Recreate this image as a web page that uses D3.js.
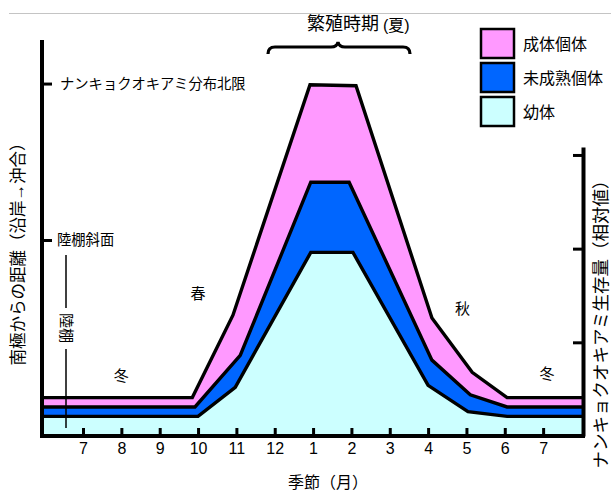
<!DOCTYPE html>
<html><head><meta charset="utf-8">
<script src="https://cdn.jsdelivr.net/npm/d3@7"></script>
<style>
body{margin:0;background:#fff;}
text{font-family:"Liberation Sans","Noto Sans CJK JP",sans-serif;fill:#000;}
</style></head>
<body>
<svg id="c" width="611" height="493"></svg>
<script>
// ---- data ----
const monthLabels = ["7","8","9","10","11","12","1","2","3","4","5","6","7"];
const monthTicks = [0,1,2,3,4,5,6,7,8,9,10,11,12];
const xDomain = [-1.07, 13.04];
// cumulative top boundaries (relative biomass)
const adultX    = [-1.07, 2.85, 3.91, 5.92, 7.12, 9.10, 10.15, 11.06, 13.04];
const adultY    = [0.41, 0.41, 1.29, 3.75, 3.74, 1.26, 0.68, 0.41, 0.41];
const immatureX = [-1.07, 2.92, 4.10, 5.94, 6.94, 9.10, 10.10, 11.06, 13.04];
const immatureY = [0.31, 0.31, 0.86, 2.71, 2.71, 0.81, 0.44, 0.31, 0.31];
const juvenileX = [-1.07, 3.00, 3.97, 5.94, 7.04, 9.00, 10.04, 11.06, 13.04];
const juvenileY = [0.21, 0.21, 0.52, 1.96, 1.96, 0.54, 0.26, 0.21, 0.21];
const seriesNames = ["成体個体","未成熟個体","幼体"];
const seriesColors = ["#ff99ff","#0066ff","#ccffff"];
const biomassTicks = [1,2,3];
const distanceTickValues = [49.5, 89];
const distanceTickLabels = ["陸棚斜面","ナンキョクオキアミ分布北限"];
const seasonLabels = ["冬","春","秋","冬"];
const seasonPos = [[1.0,0.65],[3.0,1.52],[9.9,1.36],[12.1,0.67]];

// ---- layout ----
const svg = d3.select("#c");
const x = d3.scaleLinear().domain(xDomain).range([42, 583]);
const y = d3.scaleLinear().domain([0, 4.228]).range([436, 40]);
const yRight = d3.scaleLinear().domain([0, 3.085]).range([436, 147]);
const yDist = d3.scaleLinear().domain([0, 100]).range([436, 40]);

svg.append("line").attr("x1",9).attr("x2",611).attr("y1",13.5).attr("y2",13.5)
  .attr("stroke","#c4c4c4").attr("stroke-width",1);

const series = [
  {xs: adultX, ys: adultY},
  {xs: immatureX, ys: immatureY},
  {xs: juvenileX, ys: juvenileY}
];
const area = d3.area().x(d=>x(d[0])).y0(y(0)).y1(d=>y(d[1]));
const line = d3.line().x(d=>x(d[0])).y(d=>y(d[1]));
series.forEach((s,i)=>{
  const pts = s.xs.map((v,j)=>[v, s.ys[j]]);
  svg.append("path").attr("d", area(pts)).attr("fill", seriesColors[i]);
  svg.append("path").attr("d", line(pts)).attr("fill","none")
    .attr("stroke","#000").attr("stroke-width",3.4).attr("stroke-linejoin","miter");
});

// bottom axis
const gx = svg.append("g").attr("transform","translate(0,436)")
  .call(d3.axisBottom(x).tickValues(monthTicks).tickFormat(i=>monthLabels[i])
    .tickSizeInner(-8).tickSizeOuter(0).tickPadding(7));
gx.select(".domain").attr("stroke-width",4).attr("d","M40,0H585");
gx.selectAll(".tick line").attr("stroke-width",3);
gx.selectAll(".tick text").attr("font-size",16).attr("font-family","Liberation Sans");

// left axis (distance)
const gl = svg.append("g").attr("transform","translate(42,0)")
  .call(d3.axisRight(yDist).tickValues(distanceTickValues)
    .tickFormat((d,i)=>distanceTickLabels[i]).tickSizeInner(10).tickSizeOuter(0).tickPadding(8));
gl.select(".domain").attr("stroke-width",4).attr("d","M0,40V438");
gl.selectAll(".tick line").attr("stroke-width",3);
gl.selectAll(".tick text").attr("font-size",14.3).attr("font-family","Noto Sans CJK JP");
gl.selectAll(".tick").filter((d,i)=>i===0).select("text").attr("x",15);

// right axis (biomass)
const gr = svg.append("g").attr("transform","translate(583,0)")
  .call(d3.axisLeft(yRight).tickValues(biomassTicks).tickFormat("").tickSizeInner(10).tickSizeOuter(0));
gr.select(".domain").attr("stroke-width",4);
gr.selectAll(".tick line").attr("stroke-width",3);

// continental shelf marker
svg.append("line").attr("x1",66).attr("x2",66).attr("y1",255).attr("y2",308).attr("stroke","#000").attr("stroke-width",1.5);
svg.append("line").attr("x1",66).attr("x2",66).attr("y1",349).attr("y2",428).attr("stroke","#000").attr("stroke-width",1.5);
svg.append("text").attr("transform","translate(66,328) rotate(90)").attr("text-anchor","middle")
  .attr("dominant-baseline","central").attr("font-size",15).attr("font-family","Noto Sans CJK JP").text("陸棚");

// season labels
seasonLabels.forEach((t,i)=>{
  svg.append("text").attr("x",x(seasonPos[i][0])).attr("y",y(seasonPos[i][1]))
    .attr("text-anchor","middle").attr("dominant-baseline","central")
    .attr("font-size",15).attr("font-family","Noto Sans CJK JP").text(t);
});

// axis titles
svg.append("text").attr("transform","translate(18,250) rotate(-90)").attr("text-anchor","middle")
  .attr("dominant-baseline","central").attr("font-size",16.5).attr("font-family","Noto Sans CJK JP")
  .text("南極からの距離（沿岸→沖合）");
svg.append("text").attr("transform","translate(601,320) rotate(-90)").attr("text-anchor","middle")
  .attr("dominant-baseline","central").attr("font-size",17.5).attr("font-family","Noto Sans CJK JP")
  .text("ナンキョクオキアミ生存量（相対値）");
svg.append("text").attr("x",328).attr("y",482).attr("text-anchor","middle")
  .attr("dominant-baseline","central").attr("font-size",16).attr("font-family","Noto Sans CJK JP")
  .text("季節（月）");

// breeding season brace
const bt = svg.append("text").attr("x",307).attr("y",30).attr("font-size",18).attr("font-family","Noto Sans CJK JP");
bt.append("tspan").text("繁殖時期");
bt.append("tspan").attr("font-size",16).attr("dx",4).attr("dy",1).text("(夏)");
svg.append("path").attr("d","M268,54 Q268,47 275,47 L331,47 Q337,47 338,42 Q339,47 345,47 L403,47 Q410,47 410,54")
  .attr("fill","none").attr("stroke","#000").attr("stroke-width",3.2);

// legend
const lg = svg.append("g");
const legY = [29, 63, 97];
seriesNames.forEach((n,i)=>{
  lg.append("rect").attr("x",481).attr("y",legY[i]).attr("width",33).attr("height",29)
    .attr("fill",seriesColors[i]).attr("stroke","#000").attr("stroke-width",2.5);
  lg.append("text").attr("x",523).attr("y",legY[i]+15).attr("dominant-baseline","central")
    .attr("font-size",16).attr("font-family","Noto Sans CJK JP").text(n);
});
</script>
</body></html>
